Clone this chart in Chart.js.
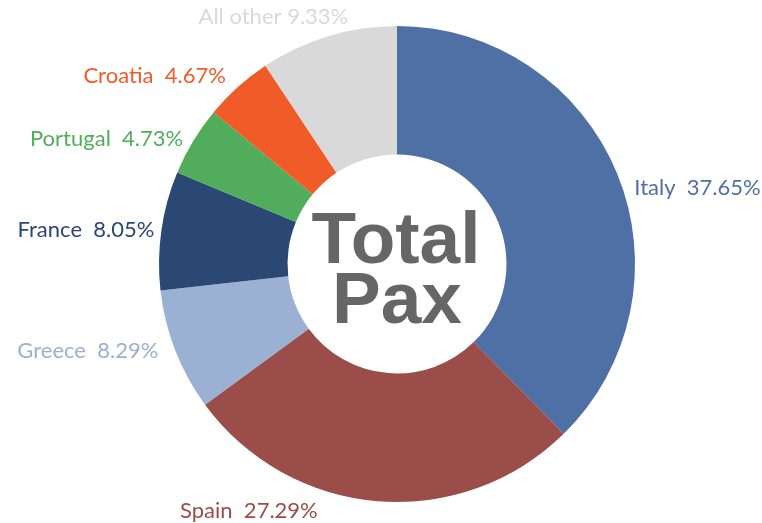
<!DOCTYPE html>
<html>
<head>
<meta charset="utf-8">
<script src="https://cdn.jsdelivr.net/npm/chart.js@4"></script>
<style>
  html, body { margin: 0; padding: 0; background: #fff; }
  #wrap { width: 762px; height: 523px; }
</style>
</head>
<body>
<div id="wrap"><canvas id="mycanvas" width="762" height="523"></canvas></div>
<script>
// data
const countries = ['Italy', 'Spain', 'Greece', 'France', 'Portugal', 'Croatia', 'All other'];
const shares = [37.65, 27.29, 8.29, 8.05, 4.73, 4.67, 9.33];
const sliceColors = ['#4f70a5', '#9b4d49', '#9ab1d3', '#2b4774', '#51ad5b', '#f15b27', '#d9d9d9'];
const centerLines = ['Total', 'Pax'];

// small nudges so the labels sit where they do in the picture [dx, dy]
const labelNudge = [[5, 14], [-48, 10], [-5, 0], [5, -1], [2, -2], [0, -11], [32, -19]];

const sliceLabels = {
    id: 'sliceLabels',
    afterDatasetsDraw(chart) {
        const ctx = chart.ctx;
        const meta = chart.getDatasetMeta(0);
        ctx.save();
        ctx.font = '22px Lato';
        ctx.textBaseline = 'middle';
        meta.data.forEach((arc, i) => {
            const mid = (arc.startAngle + arc.endAngle) / 2;
            const ax = arc.x + Math.cos(mid) * arc.outerRadius;
            const ay = arc.y + Math.sin(mid) * arc.outerRadius;
            const right = Math.cos(mid) >= 0;
            const gap = 12;
            const nudge = labelNudge[i] || [0, 0];
            const sep = countries[i] === 'All other' ? ' ' : '  ';
            ctx.fillStyle = sliceColors[i];
            ctx.textAlign = right ? 'left' : 'right';
            ctx.fillText(countries[i] + sep + shares[i].toFixed(2) + '%',
                ax + (right ? gap : -gap) + nudge[0], ay + nudge[1]);
        });

        // centre text
        const cx = meta.data[0].x, cy = meta.data[0].y;
        ctx.fillStyle = '#666666';
        ctx.textAlign = 'center';
        ctx.textBaseline = 'alphabetic';
        ctx.font = 'bold 73px "Liberation Sans"';
        ctx.fillText(centerLines[0], cx - 1, cy - 1);
        ctx.fillText(centerLines[1], cx, cy + 59);
        ctx.restore();
    }
};

document.addEventListener('DOMContentLoaded', function() {
    let ctx = document.getElementById('mycanvas').getContext('2d');
    new Chart(ctx, {
        type: 'doughnut',
        data: {
            labels: countries,
            datasets: [{
                data: shares,
                backgroundColor: sliceColors,
                borderWidth: 0
            }]
        },
        options: {
            responsive: false,
            animation: false,
            cutout: '46%',
            layout: { padding: { left: 159, right: 127, top: 26, bottom: 21 } },
            plugins: {
                legend: { display: false },
                tooltip: { enabled: false }
            }
        },
        plugins: [sliceLabels]
    });
});
</script>
</body>
</html>
